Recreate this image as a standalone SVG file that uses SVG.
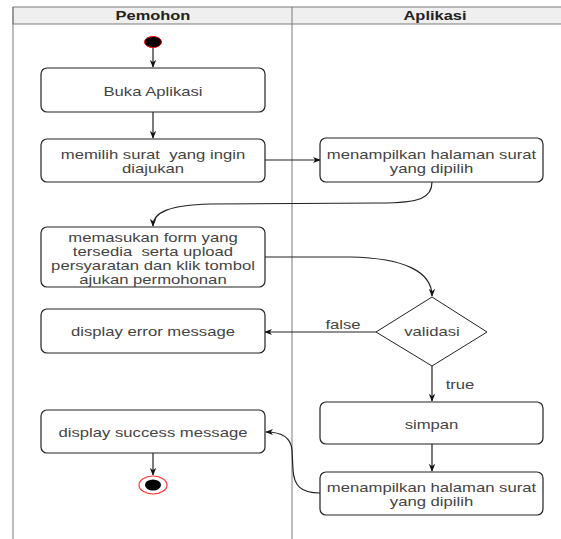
<svg xmlns="http://www.w3.org/2000/svg" width="561" height="539" viewBox="0 0 561 539">
<style>
.lane{fill:none;stroke:#7a7a7a;stroke-width:1}
.hdr{fill:#efefef;stroke:#7a7a7a;stroke-width:1}
.ht{font-family:"Liberation Sans",Arial,sans-serif;font-size:12px;font-weight:bold;fill:#222;text-anchor:middle}
.box{fill:#fff;stroke:#222;stroke-width:1.2}
.t{font-family:"Liberation Sans",Arial,sans-serif;font-size:12px;fill:#444;text-anchor:middle;white-space:pre}
.c{fill:none;stroke:#222;stroke-width:1.2;marker-end:url(#arr)}
</style>
<defs>
<marker id="arr" viewBox="0 0 10 10" refX="9" refY="5" markerWidth="8" markerHeight="8" orient="auto" markerUnits="userSpaceOnUse">
<path d="M0,1 L10,5 L0,9 L3,5 z" fill="#111"/>
</marker>
</defs>
<rect width="561" height="539" fill="#fff"/>
<g id="lanes">
<rect class="hdr" x="13" y="7" width="560" height="17"/>
<line class="lane" x1="13" y1="7" x2="13" y2="539"/>
<line class="lane" x1="292" y1="7" x2="292" y2="539"/>
<text class="ht" transform="translate(153,20) scale(1.37,1)">Pemohon</text>
<text class="ht" transform="translate(435,20) scale(1.37,1)">Aplikasi</text>
</g>
<g id="connectors">
<line class="c" x1="153" y1="48" x2="153" y2="67"/>
<line class="c" x1="153" y1="112" x2="153" y2="138"/>
<line class="c" x1="265" y1="160" x2="320" y2="160"/>
<path class="c" d="M432,182 C432,198 420,203 380,203 L210,204 C170,205 153,212 153,226"/>
<path class="c" d="M265,257 L350,257 C405,258 432,272 432,296"/>
<line class="c" x1="376" y1="332" x2="265" y2="332"/>
<line class="c" x1="432" y1="366" x2="432" y2="401"/>
<line class="c" x1="432" y1="444" x2="432" y2="471"/>
<path class="c" d="M320,493 C300,493 294,485 293,470 L292,450 C291,438 282,432 266,432"/>
<line class="c" x1="153" y1="453" x2="153" y2="475"/>
<text class="t" transform="translate(343,329) scale(1.39,1)">false</text>
<text class="t" transform="translate(460,389) scale(1.39,1)">true</text>
</g>
<g id="start">
<ellipse cx="153" cy="42" rx="8.5" ry="5.5" fill="#000" stroke="#e00" stroke-width="1"/>
</g>
<g id="buka">
<rect class="box" x="41" y="68" width="224" height="44" rx="6"/>
<text class="t" transform="translate(153,96) scale(1.39,1)">Buka Aplikasi</text>
</g>
<g id="memilih">
<rect class="box" x="41" y="139" width="224" height="43" rx="6"/>
<text class="t" transform="translate(153,159) scale(1.39,1)" xml:space="preserve">memilih surat  yang ingin</text>
<text class="t" transform="translate(153,173) scale(1.39,1)">diajukan</text>
</g>
<g id="menampilkan1">
<rect class="box" x="320" y="138" width="223" height="44" rx="6"/>
<text class="t" transform="translate(431.5,159) scale(1.39,1)">menampilkan halaman surat</text>
<text class="t" transform="translate(431.5,173) scale(1.39,1)">yang dipilih</text>
</g>
<g id="memasukan">
<rect class="box" x="41" y="227" width="224" height="60" rx="6"/>
<text class="t" transform="translate(153,241.5) scale(1.39,1)">memasukan form yang</text>
<text class="t" transform="translate(153,255.5) scale(1.39,1)" xml:space="preserve">tersedia  serta upload</text>
<text class="t" transform="translate(153,269.5) scale(1.39,1)">persyaratan dan klik tombol</text>
<text class="t" transform="translate(153,283.5) scale(1.39,1)">ajukan permohonan</text>
</g>
<g id="validasi">
<polygon points="432,297 487,332 432,366 376,332" fill="#fff" stroke="#222" stroke-width="1"/>
<text class="t" transform="translate(432,336) scale(1.39,1)">validasi</text>
</g>
<g id="error">
<rect class="box" x="41" y="309" width="224" height="44" rx="6"/>
<text class="t" transform="translate(153,336) scale(1.39,1)">display error message</text>
</g>
<g id="simpan">
<rect class="box" x="320" y="402" width="223" height="42" rx="6"/>
<text class="t" transform="translate(431.5,429) scale(1.39,1)">simpan</text>
</g>
<g id="menampilkan2">
<rect class="box" x="320" y="472" width="223" height="43" rx="6"/>
<text class="t" transform="translate(431.5,492) scale(1.39,1)">menampilkan halaman surat</text>
<text class="t" transform="translate(431.5,506) scale(1.39,1)">yang dipilih</text>
</g>
<g id="success">
<rect class="box" x="41" y="410" width="224" height="43" rx="6"/>
<text class="t" transform="translate(153,437) scale(1.39,1)">display success message</text>
</g>
<g id="end">
<ellipse cx="153" cy="485" rx="14" ry="9" fill="#fff" stroke="#f33" stroke-width="1.2"/>
<ellipse cx="153" cy="485" rx="8" ry="5.5" fill="#000"/>
</g>
</svg>
